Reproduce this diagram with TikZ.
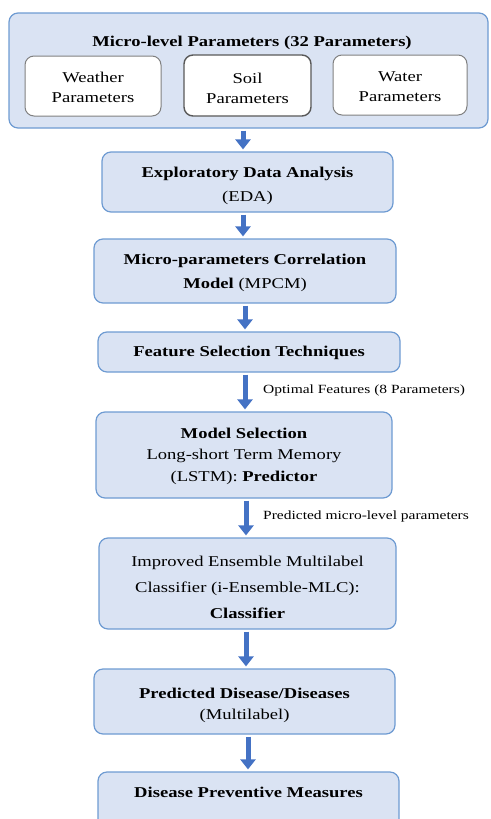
\documentclass[tikz,border=0pt]{standalone}
\usepackage{fontspec}
\setmainfont[FakeStretch=1.24]{Liberation Serif}
\usetikzlibrary{arrows.meta}
\definecolor{boxfill}{HTML}{DAE3F3}
\definecolor{boxline}{HTML}{6E9BD2}
\definecolor{arrowblue}{HTML}{4472C4}
\definecolor{innerline}{HTML}{808080}
\tikzset{
  stage/.style={draw=boxline, line width=1.2pt, fill=boxfill, rounded corners=9pt, inner sep=0pt},
  inner/.style={draw=innerline, line width=1pt, fill=white, rounded corners=9pt, inner sep=0pt},
  txt/.style={align=center, inner sep=0pt, font=\fontsize{15}{18}\selectfont},
  flow/.style={draw=arrowblue, line width=5pt, -{Triangle[width=15pt,length=10pt]},
    shorten <=2pt, shorten >=2pt},
  note/.style={anchor=west, inner sep=0pt, font=\fontsize{12.5}{14}\selectfont}
}
\begin{document}
\begin{tikzpicture}[x=1pt,y=-1pt]
\useasboundingbox (0,0) rectangle (490,819);
\node[stage, minimum width=479pt, minimum height=115pt] (top) at (248.5,70.5) {};
\node[txt, font=\fontsize{15}{18}\selectfont\bfseries] (title) at (252,43) {Micro-level Parameters (32 Parameters)};
\node[inner, minimum width=136pt, minimum height=60pt] (weather) at (93,86) {};
\node[txt] (weathert) at ([yshift=-1.5pt]weather.center) {Weather\\[2pt]Parameters};
\node[inner, draw=black!65, line width=1.4pt, minimum width=127pt, minimum height=61pt] (soil) at (247.5,85.5) {};
\node[txt] (soilt) at ([yshift=-2.5pt]soil.center) {Soil\\[2pt]Parameters};
\node[inner, minimum width=134pt, minimum height=60pt] (water) at (400,85) {};
\node[txt] (watert) at ([yshift=-1.5pt]water.center) {Water\\[2pt]Parameters};

\node[stage, minimum width=291pt, minimum height=60pt] (eda) at (247.5,182) {};
\node[txt] (edat) at ([yshift=-3.5pt]eda.center) {\textbf{Exploratory Data Analysis}\\[6pt](EDA)};
\node[stage, minimum width=302pt, minimum height=64pt] (mpcm) at (245,271) {};
\node[txt] (mpcmt) at ([yshift=-2pt]mpcm.center) {\textbf{Micro-parameters Correlation}\\[6pt]\textbf{Model} (MPCM)};
\node[stage, minimum width=302pt, minimum height=40pt] (fst) at (249,352) {};
\node[txt, font=\fontsize{15}{18}\selectfont\bfseries] (fstt) at ([yshift=-1pt]fst.center) {Feature Selection Techniques};
\node[stage, minimum width=296pt, minimum height=86pt] (ms) at (244,455) {};
\node[txt] (mst) at ([yshift=-1pt]ms.center) {\textbf{Model Selection}\\[3.5pt]Long-short Term Memory\\[3.5pt](LSTM): \textbf{Predictor}};
\node[stage, minimum width=297pt, minimum height=91pt] (cl) at (247.5,583.5) {};
\node[txt] (clt) at ([yshift=-3.5pt]cl.center) {Improved Ensemble Multilabel\\[8pt]Classifier (i-Ensemble-MLC):\\[8pt]\textbf{Classifier}};
\node[stage, minimum width=301pt, minimum height=65pt] (pd) at (244.5,701.5) {};
\node[txt] (pdt) at ([yshift=-3.5pt]pd.center) {\textbf{Predicted Disease/Diseases}\\[3pt](Multilabel)};
\node[stage, minimum width=301pt, minimum height=56pt] (dpm) at (248.5,800) {};
\node[txt, font=\fontsize{15}{18}\selectfont\bfseries] (dpmt) at (248.5,792) {Disease Preventive Measures};

\coordinate (a1) at (243,0);
\coordinate (a2) at (243,0);
\coordinate (a3) at (245,0);
\coordinate (a4) at (245,0);
\coordinate (a5) at (246,0);
\coordinate (a6) at (246,0);
\coordinate (a7) at (248,0);
\draw[flow] (top.south -| a1) -- (eda.north -| a1);
\draw[flow] (eda.south -| a2) -- (mpcm.north -| a2);
\draw[flow] (mpcm.south -| a3) -- (fst.north -| a3);
\draw[flow] (fst.south -| a4) -- (ms.north -| a4);
\draw[flow] (ms.south -| a5) -- (cl.north -| a5);
\draw[flow] (cl.south -| a6) -- (pd.north -| a6);
\draw[flow] (pd.south -| a7) -- (dpm.north -| a7);

\node[note] (opt) at (263,390) {Optimal Features (8 Parameters)};
\node[note] (pred) at (263,516) {Predicted micro-level parameters};
\end{tikzpicture}
\end{document}
